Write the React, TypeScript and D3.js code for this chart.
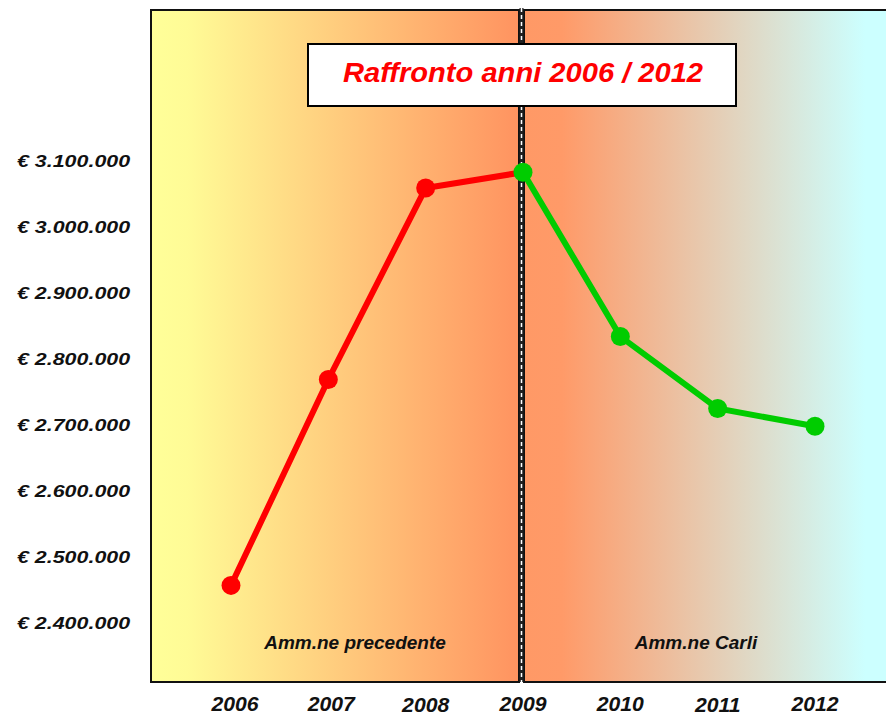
import { useRef, useEffect } from "react";
import * as d3 from "d3";

const years = [2006, 2007, 2008, 2009, 2010, 2011, 2012];
const values = [2457000, 2769000, 3059000, 3083000, 2834000, 2725000, 2698000];
const yTicks = [2400000, 2500000, 2600000, 2700000, 2800000, 2900000, 3000000, 3100000];
const splitYear = 2009;
const title = "Raffronto anni 2006 / 2012";
const periodLabels = ["Amm.ne precedente", "Amm.ne Carli"];

const width = 886;
const height = 714;
const font = "'Liberation Sans', Arial, sans-serif";

const fmtEuro = (v: number) =>
  "€ " + d3.format(",")(v).replace(/,/g, ".");

export default function App() {
  const ref = useRef<SVGSVGElement | null>(null);

  useEffect(() => {
    const svg = d3.select(ref.current);
    svg.selectAll("*").remove();

    const x = d3.scaleLinear().domain([2006, 2012]).range([231, 815]);
    const y = d3.scaleLinear().domain([2400000, 3100000]).range([623, 161]);

    const defs = svg.append("defs");
    const g1 = defs.append("linearGradient").attr("id", "gLeft");
    g1.append("stop").attr("offset", "0%").attr("stop-color", "#FFFF99");
    g1.append("stop").attr("offset", "10%").attr("stop-color", "#FFFB96");
    g1.append("stop").attr("offset", "100%").attr("stop-color", "#FF9360");
    const g2 = defs.append("linearGradient").attr("id", "gRight");
    g2.append("stop").attr("offset", "0%").attr("stop-color", "#FF9966");
    g2.append("stop").attr("offset", "10%").attr("stop-color", "#FF9A68");
    g2.append("stop").attr("offset", "90%").attr("stop-color", "#CCFFFF");
    g2.append("stop").attr("offset", "100%").attr("stop-color", "#CCFFFF");
    defs
      .append("clipPath")
      .attr("id", "yclip")
      .append("rect")
      .attr("x", 0)
      .attr("y", 0)
      .attr("width", 131)
      .attr("height", height);

    const top = 10;
    const bottom = 682;
    const splitX = x(splitYear) - 2;

    // period panels
    svg
      .append("rect")
      .attr("x", 151)
      .attr("y", top)
      .attr("width", splitX - 2 - 151)
      .attr("height", bottom - top)
      .attr("fill", "url(#gLeft)")
      .attr("stroke", "#111")
      .attr("stroke-width", 2);
    svg
      .append("rect")
      .attr("x", splitX + 3)
      .attr("y", top)
      .attr("width", 900 - splitX)
      .attr("height", bottom - top)
      .attr("fill", "url(#gRight)")
      .attr("stroke", "#111")
      .attr("stroke-width", 2);

    // divider
    svg
      .append("line")
      .attr("x1", splitX + 0.5)
      .attr("x2", splitX + 0.5)
      .attr("y1", top - 2)
      .attr("y2", bottom)
      .attr("stroke", "#222")
      .attr("stroke-width", 4);
    svg
      .append("line")
      .attr("x1", splitX + 0.5)
      .attr("x2", splitX + 0.5)
      .attr("y1", top - 2)
      .attr("y2", bottom)
      .attr("stroke", "#fff")
      .attr("stroke-width", 1.5)
      .attr("stroke-dasharray", "4,3");

    // title box
    svg
      .append("rect")
      .attr("x", 308)
      .attr("y", 44)
      .attr("width", 428)
      .attr("height", 62)
      .attr("fill", "#fff")
      .attr("stroke", "#000")
      .attr("stroke-width", 2);
    svg
      .append("text")
      .attr("transform", "translate(523,82) scale(1.04,1)")
      .attr("text-anchor", "middle")
      .attr("font-family", font)
      .attr("font-size", 28)
      .attr("font-weight", "bold")
      .attr("font-style", "italic")
      .attr("fill", "#FF0000")
      .text(title);

    // period labels
    const labX = [355, 696];
    periodLabels.forEach((t, i) => {
      svg
        .append("text")
        .attr("x", labX[i])
        .attr("y", 649)
        .attr("text-anchor", "middle")
        .attr("font-family", font)
        .attr("font-size", 19)
        .attr("font-weight", "bold")
        .attr("font-style", "italic")
        .attr("fill", "#111")
        .text(t);
    });

    // y axis labels (stretched, clipped at the panel)
    svg
      .append("g")
      .attr("clip-path", "url(#yclip)")
      .selectAll("text")
      .data(yTicks)
      .join("text")
      .attr("transform", (d) => `translate(17,${y(d) + 6}) scale(1.26,1)`)
      .attr("font-family", font)
      .attr("font-size", 17)
      .attr("font-weight", "bold")
      .attr("font-style", "italic")
      .attr("fill", "#111")
      .text((d) => fmtEuro(d));

    // x axis labels
    svg
      .append("g")
      .selectAll("text")
      .data(years)
      .join("text")
      .attr(
        "transform",
        (d) =>
          `translate(${x(d) + (d === 2006 ? 4 : d === 2007 ? 3 : 0)},${
            d === 2008 || d === 2011 ? 711.5 : 710.5
          }) scale(1.06,1)`
      )
      .attr("text-anchor", "middle")
      .attr("font-family", font)
      .attr("font-size", 20)
      .attr("font-weight", "bold")
      .attr("font-style", "italic")
      .attr("fill", "#111")
      .text((d) => String(d));

    const pts = years.map((yr, i) => ({ yr, v: values[i] }));
    const before = pts.filter((p) => p.yr <= splitYear);
    const after = pts.filter((p) => p.yr >= splitYear);

    const line = d3
      .line<{ yr: number; v: number }>()
      .x((d) => x(d.yr))
      .y((d) => y(d.v));

    svg
      .append("path")
      .datum(before)
      .attr("fill", "none")
      .attr("stroke", "#FF0000")
      .attr("stroke-width", 6)
      .attr("d", line);
    svg
      .append("path")
      .datum(after)
      .attr("fill", "none")
      .attr("stroke", "#00CC00")
      .attr("stroke-width", 6)
      .attr("d", line);

    svg
      .append("g")
      .selectAll("circle")
      .data(before.filter((p) => p.yr < splitYear))
      .join("circle")
      .attr("cx", (d) => x(d.yr))
      .attr("cy", (d) => y(d.v))
      .attr("r", 9.5)
      .attr("fill", "#FF0000");
    svg
      .append("g")
      .selectAll("circle")
      .data(after)
      .join("circle")
      .attr("cx", (d) => x(d.yr))
      .attr("cy", (d) => y(d.v))
      .attr("r", 9.5)
      .attr("fill", "#00CC00");
  }, []);

  return (
    <svg
      ref={ref}
      width={width}
      height={height}
      style={{ position: "absolute", left: 0, top: 0, background: "#fff" }}
    />
  );
}
